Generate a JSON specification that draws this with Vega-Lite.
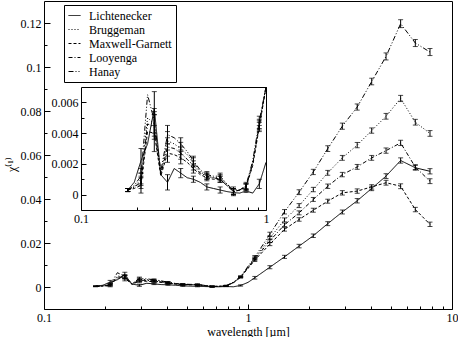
{
"$schema": "https://vega.github.io/schema/vega-lite/v6.json",
"width": 408, "height": 308,
"autosize": {"type": "none"},
"padding": {"left": 44, "top": 1, "right": 6, "bottom": 28},
"background": "white",
"config": {
  "font": "Liberation Serif",
  "view": {"stroke": "black", "strokeWidth": 1},
  "axis": {"labelFont": "Liberation Serif", "labelFontSize": 12, "labelColor": "black", "titleFont": "Liberation Serif", "titleFontSize": 12, "titleFontWeight": "normal", "titleColor": "black", "tickColor": "black", "domainColor": "black", "grid": false, "labelFlush": false, "labelOverlap": false, "tickWidth": 1},
  "legend": {"labelFont": "Liberation Serif"}
},
"datasets": {"chi": [
{"s":"Lichtenecker","x":0.179,"y":0.0003,"e":0.0001},{"s":"Lichtenecker","x":0.194,"y":0.0008},{"s":"Lichtenecker","x":0.211,"y":0.0022,"e":0.0008},{"s":"Lichtenecker","x":0.229,"y":0.0033},{"s":"Lichtenecker","x":0.249,"y":0.0056,"e":0.0011},{"s":"Lichtenecker","x":0.270,"y":0.0013},{"s":"Lichtenecker","x":0.2935,"y":0.0008,"e":0.0005},{"s":"Lichtenecker","x":0.319,"y":0.0017},{"s":"Lichtenecker","x":0.346,"y":0.0014,"e":0.0003},{"s":"Lichtenecker","x":0.375,"y":0.0011},{"s":"Lichtenecker","x":0.405,"y":0.0010,"e":0.0002},{"s":"Lichtenecker","x":0.441,"y":0.0008},{"s":"Lichtenecker","x":0.479,"y":0.0005,"e":0.0002},{"s":"Lichtenecker","x":0.520,"y":0.0004},{"s":"Lichtenecker","x":0.565,"y":0.0003,"e":0.0002},{"s":"Lichtenecker","x":0.614,"y":0.0002},{"s":"Lichtenecker","x":0.667,"y":0.00013,"e":0.0002},{"s":"Lichtenecker","x":0.721,"y":0.0001},{"s":"Lichtenecker","x":0.780,"y":0.00024,"e":0.0001},{"s":"Lichtenecker","x":0.848,"y":0.0001},{"s":"Lichtenecker","x":0.920,"y":0.0007,"e":0.0003},{"s":"Lichtenecker","x":1.0,"y":0.0021},{"s":"Lichtenecker","x":1.08,"y":0.0042,"e":0.0006},{"s":"Lichtenecker","x":1.28,"y":0.0090,"e":0.0007},{"s":"Lichtenecker","x":1.51,"y":0.0137,"e":0.0007},{"s":"Lichtenecker","x":1.78,"y":0.0186,"e":0.0008},{"s":"Lichtenecker","x":2.09,"y":0.0233,"e":0.0008},{"s":"Lichtenecker","x":2.46,"y":0.0288,"e":0.0009},{"s":"Lichtenecker","x":2.90,"y":0.0341,"e":0.0009},{"s":"Lichtenecker","x":3.43,"y":0.0392,"e":0.0010},{"s":"Lichtenecker","x":4.04,"y":0.0448,"e":0.0010},{"s":"Lichtenecker","x":4.75,"y":0.0504,"e":0.0011},{"s":"Lichtenecker","x":5.60,"y":0.0575,"e":0.0012},{"s":"Lichtenecker","x":6.61,"y":0.0542,"e":0.0011},{"s":"Lichtenecker","x":7.80,"y":0.0526,"e":0.0012},
{"s":"Hanay","x":0.179,"y":0.0003,"e":0.0001},{"s":"Hanay","x":0.194,"y":0.0006},{"s":"Hanay","x":0.211,"y":0.0012,"e":0.0005},{"s":"Hanay","x":0.229,"y":0.0065},{"s":"Hanay","x":0.249,"y":0.0048,"e":0.0008},{"s":"Hanay","x":0.270,"y":0.0015},{"s":"Hanay","x":0.2935,"y":0.0039,"e":0.0006},{"s":"Hanay","x":0.319,"y":0.0037},{"s":"Hanay","x":0.346,"y":0.0033,"e":0.0004},{"s":"Hanay","x":0.375,"y":0.0028},{"s":"Hanay","x":0.405,"y":0.0022,"e":0.0003},{"s":"Hanay","x":0.441,"y":0.0016},{"s":"Hanay","x":0.479,"y":0.0013,"e":0.0002},{"s":"Hanay","x":0.520,"y":0.0012},{"s":"Hanay","x":0.565,"y":0.0012,"e":0.0002},{"s":"Hanay","x":0.614,"y":0.0007},{"s":"Hanay","x":0.667,"y":0.0003,"e":0.0002},{"s":"Hanay","x":0.721,"y":0.0003},{"s":"Hanay","x":0.780,"y":0.0006,"e":0.0002},{"s":"Hanay","x":0.848,"y":0.0022},{"s":"Hanay","x":0.920,"y":0.0048,"e":0.0003},{"s":"Hanay","x":1.08,"y":0.0136,"e":0.0007},{"s":"Hanay","x":1.28,"y":0.0240,"e":0.0009},{"s":"Hanay","x":1.51,"y":0.0342,"e":0.0010},{"s":"Hanay","x":1.78,"y":0.0431,"e":0.0011},{"s":"Hanay","x":2.09,"y":0.0523,"e":0.0012},{"s":"Hanay","x":2.46,"y":0.0629,"e":0.0013},{"s":"Hanay","x":2.90,"y":0.0731,"e":0.0014},{"s":"Hanay","x":3.43,"y":0.0818,"e":0.0014},{"s":"Hanay","x":4.04,"y":0.0934,"e":0.0015},{"s":"Hanay","x":4.75,"y":0.1048,"e":0.0016},{"s":"Hanay","x":5.60,"y":0.1197,"e":0.0018},{"s":"Hanay","x":6.61,"y":0.1109,"e":0.0016},{"s":"Hanay","x":7.80,"y":0.1068,"e":0.0016},
{"s":"Bruggeman","x":0.179,"y":0.0003,"e":0.0001},{"s":"Bruggeman","x":0.194,"y":0.0005},{"s":"Bruggeman","x":0.211,"y":0.0010,"e":0.0004},{"s":"Bruggeman","x":0.229,"y":0.0050},{"s":"Bruggeman","x":0.249,"y":0.0046,"e":0.0008},{"s":"Bruggeman","x":0.270,"y":0.0014},{"s":"Bruggeman","x":0.2935,"y":0.0035,"e":0.0006},{"s":"Bruggeman","x":0.319,"y":0.0033},{"s":"Bruggeman","x":0.346,"y":0.0030,"e":0.0004},{"s":"Bruggeman","x":0.375,"y":0.0026},{"s":"Bruggeman","x":0.405,"y":0.0021,"e":0.0003},{"s":"Bruggeman","x":0.441,"y":0.0015},{"s":"Bruggeman","x":0.479,"y":0.0012,"e":0.0002},{"s":"Bruggeman","x":0.520,"y":0.0011},{"s":"Bruggeman","x":0.565,"y":0.0011,"e":0.0002},{"s":"Bruggeman","x":0.614,"y":0.0007},{"s":"Bruggeman","x":0.667,"y":0.0002,"e":0.0002},{"s":"Bruggeman","x":0.721,"y":0.0003},{"s":"Bruggeman","x":0.780,"y":0.0005,"e":0.0002},{"s":"Bruggeman","x":0.848,"y":0.0021},{"s":"Bruggeman","x":0.920,"y":0.0046,"e":0.0003},{"s":"Bruggeman","x":1.08,"y":0.0131,"e":0.0006},{"s":"Bruggeman","x":1.28,"y":0.0223,"e":0.0008},{"s":"Bruggeman","x":1.51,"y":0.0305,"e":0.0009},{"s":"Bruggeman","x":1.78,"y":0.0370,"e":0.0009},{"s":"Bruggeman","x":2.09,"y":0.0443,"e":0.0010},{"s":"Bruggeman","x":2.46,"y":0.0519,"e":0.0011},{"s":"Bruggeman","x":2.90,"y":0.0587,"e":0.0011},{"s":"Bruggeman","x":3.43,"y":0.0645,"e":0.0012},{"s":"Bruggeman","x":4.04,"y":0.0711,"e":0.0012},{"s":"Bruggeman","x":4.75,"y":0.0776,"e":0.0013},{"s":"Bruggeman","x":5.60,"y":0.0857,"e":0.0014},{"s":"Bruggeman","x":6.61,"y":0.0749,"e":0.0013},{"s":"Bruggeman","x":7.80,"y":0.0698,"e":0.0013},
{"s":"Looyenga","x":0.179,"y":0.0003,"e":0.0001},{"s":"Looyenga","x":0.194,"y":0.0005},{"s":"Looyenga","x":0.211,"y":0.0008,"e":0.0004},{"s":"Looyenga","x":0.229,"y":0.0046},{"s":"Looyenga","x":0.249,"y":0.0044,"e":0.0008},{"s":"Looyenga","x":0.270,"y":0.0013},{"s":"Looyenga","x":0.2935,"y":0.0031,"e":0.0006},{"s":"Looyenga","x":0.319,"y":0.0030},{"s":"Looyenga","x":0.346,"y":0.0027,"e":0.0004},{"s":"Looyenga","x":0.375,"y":0.0023},{"s":"Looyenga","x":0.405,"y":0.0019,"e":0.0003},{"s":"Looyenga","x":0.441,"y":0.0014},{"s":"Looyenga","x":0.479,"y":0.0012,"e":0.0002},{"s":"Looyenga","x":0.520,"y":0.0011},{"s":"Looyenga","x":0.565,"y":0.0010,"e":0.0002},{"s":"Looyenga","x":0.614,"y":0.0006},{"s":"Looyenga","x":0.667,"y":0.0002,"e":0.0002},{"s":"Looyenga","x":0.721,"y":0.0003},{"s":"Looyenga","x":0.780,"y":0.0005,"e":0.0002},{"s":"Looyenga","x":0.848,"y":0.0020},{"s":"Looyenga","x":0.920,"y":0.0045,"e":0.0003},{"s":"Looyenga","x":1.08,"y":0.0127,"e":0.0006},{"s":"Looyenga","x":1.28,"y":0.0210,"e":0.0008},{"s":"Looyenga","x":1.51,"y":0.0283,"e":0.0008},{"s":"Looyenga","x":1.78,"y":0.0337,"e":0.0009},{"s":"Looyenga","x":2.09,"y":0.0398,"e":0.0009},{"s":"Looyenga","x":2.46,"y":0.0458,"e":0.0010},{"s":"Looyenga","x":2.90,"y":0.0511,"e":0.0010},{"s":"Looyenga","x":3.43,"y":0.0546,"e":0.0011},{"s":"Looyenga","x":4.04,"y":0.0587,"e":0.0011},{"s":"Looyenga","x":4.75,"y":0.0620,"e":0.0012},{"s":"Looyenga","x":5.60,"y":0.0655,"e":0.0012},{"s":"Looyenga","x":6.61,"y":0.0545,"e":0.0011},{"s":"Looyenga","x":7.80,"y":0.0481,"e":0.0011},
{"s":"Maxwell-Garnett","x":0.179,"y":0.0003,"e":0.0001},{"s":"Maxwell-Garnett","x":0.194,"y":0.0004},{"s":"Maxwell-Garnett","x":0.211,"y":0.0006,"e":0.0005},{"s":"Maxwell-Garnett","x":0.229,"y":0.0041},{"s":"Maxwell-Garnett","x":0.249,"y":0.0040,"e":0.0012},{"s":"Maxwell-Garnett","x":0.270,"y":0.0012},{"s":"Maxwell-Garnett","x":0.2935,"y":0.0027,"e":0.0006},{"s":"Maxwell-Garnett","x":0.319,"y":0.0026},{"s":"Maxwell-Garnett","x":0.346,"y":0.0024,"e":0.0004},{"s":"Maxwell-Garnett","x":0.375,"y":0.0021},{"s":"Maxwell-Garnett","x":0.405,"y":0.0017,"e":0.0003},{"s":"Maxwell-Garnett","x":0.441,"y":0.0013},{"s":"Maxwell-Garnett","x":0.479,"y":0.0011,"e":0.0002},{"s":"Maxwell-Garnett","x":0.520,"y":0.0010},{"s":"Maxwell-Garnett","x":0.565,"y":0.0010,"e":0.0002},{"s":"Maxwell-Garnett","x":0.614,"y":0.0006},{"s":"Maxwell-Garnett","x":0.667,"y":0.0002,"e":0.0002},{"s":"Maxwell-Garnett","x":0.721,"y":0.0003},{"s":"Maxwell-Garnett","x":0.780,"y":0.0005,"e":0.0002},{"s":"Maxwell-Garnett","x":0.848,"y":0.0019},{"s":"Maxwell-Garnett","x":0.920,"y":0.0044,"e":0.0003},{"s":"Maxwell-Garnett","x":1.08,"y":0.0122,"e":0.0006},{"s":"Maxwell-Garnett","x":1.28,"y":0.0195,"e":0.0007},{"s":"Maxwell-Garnett","x":1.51,"y":0.0262,"e":0.0008},{"s":"Maxwell-Garnett","x":1.78,"y":0.0307,"e":0.0008},{"s":"Maxwell-Garnett","x":2.09,"y":0.0349,"e":0.0009},{"s":"Maxwell-Garnett","x":2.46,"y":0.0390,"e":0.0009},{"s":"Maxwell-Garnett","x":2.90,"y":0.0428,"e":0.0010},{"s":"Maxwell-Garnett","x":3.43,"y":0.0436,"e":0.0010},{"s":"Maxwell-Garnett","x":4.04,"y":0.0455,"e":0.0010},{"s":"Maxwell-Garnett","x":4.75,"y":0.0474,"e":0.0011},{"s":"Maxwell-Garnett","x":5.60,"y":0.0458,"e":0.0011},{"s":"Maxwell-Garnett","x":6.61,"y":0.0352,"e":0.0010},{"s":"Maxwell-Garnett","x":7.80,"y":0.0285,"e":0.0010}
]},
"data": {"name": "chi"},
"layer": [
  {
    "mark": {"type": "line", "strokeWidth": 1, "color": "black"},
    "encoding": {
      "x": {"field": "x", "type": "quantitative", "scale": {"type": "log", "domain": [0.1, 10]},
            "axis": {"orient": "bottom", "title": "wavelength  [µm]", "values": [0.1,0.2,0.3,0.4,0.5,0.6,0.7,0.8,0.9,1,2,3,4,5,6,7,8,9,10], "format": "~g",
                     "labelExpr": "datum.value==0.1||datum.value==1||datum.value==10 ? datum.label : ''",
                     "tickSize": {"condition": {"test": "datum.value==0.1||datum.value==1||datum.value==10", "value": -5}, "value": -3},
                     "labelPadding": 8, "domain": false, "titlePadding": 1}},
      "y": {"field": "y", "type": "quantitative", "scale": {"domain": [-0.01, 0.13]},
            "axis": {"orient": "left", "title": "χ⁽¹⁾", "titleX": -33, "titleY": 163, "titleAngle": -90, "titleAlign": "center", "titleBaseline": "middle",
                     "values": [0,0.01,0.02,0.03,0.04,0.05,0.06,0.07,0.08,0.09,0.1,0.11,0.12], "format": "~g",
                     "labelExpr": "round(datum.value*100) % 2 == 0 ? datum.label : ''",
                     "tickSize": {"condition": {"test": "round(datum.value*100) % 2 == 0", "value": -6}, "value": -3},
                     "labelPadding": 9, "domain": false}},
      "strokeDash": {"field": "s", "type": "nominal",
            "scale": {"domain": ["Lichtenecker", "Bruggeman", "Maxwell-Garnett", "Looyenga", "Hanay"], "range": [[1,0],[1,2],[3,2],[4,2,1,2],[5,2,1,2,1,2]]},
            "legend": {"orient": "none", "legendX": 20, "legendY": 4, "title": null, "symbolType": "stroke", "symbolStrokeColor": "black", "symbolStrokeWidth": 1, "symbolSize": 144,
                       "labelFont": "Liberation Serif", "labelFontSize": 12, "labelColor": "black", "fillColor": "white", "strokeColor": "black", "padding": 4, "rowPadding": 1, "labelOffset": 8}}
    }
  },
  {
    "transform": [{"filter": "datum.e != null"}],
    "mark": {"type": "errorbar", "ticks": {"size": 5, "color": "black", "thickness": 1}, "rule": {"color": "black", "strokeWidth": 1}},
    "encoding": {
      "x": {"field": "x", "type": "quantitative", "scale": {"type": "log", "domain": [0.1, 10]}, "axis": null},
      "y": {"field": "y", "type": "quantitative", "scale": {"domain": [-0.01, 0.13]}, "axis": null},
      "yError": {"field": "e"}
    }
  },
  {
    "transform": [{"filter": "datum.x < 1.1 && (datum.s != 'Lichtenecker' || datum.x <= 1.0)"}],
    "mark": {"type": "line", "strokeWidth": 1, "color": "black"},
    "encoding": {
      "x": {"field": "x", "type": "quantitative", "scale": {"type": "log", "domain": [0.1, 1], "range": [37, 222], "clamp": true},
            "axis": {"orient": "bottom", "offset": -99, "title": null, "values": [0.1,0.2,0.3,0.4,0.5,0.6,0.7,0.8,0.9,1], "format": "~g",
                     "labelExpr": "datum.value==0.1||datum.value==1 ? datum.label : ''",
                     "tickSize": {"condition": {"test": "datum.value==0.1||datum.value==1", "value": -5}, "value": -3},
                     "labelPadding": 8, "domain": true}},
      "y": {"field": "y", "type": "quantitative", "scale": {"domain": [-0.001, 0.007], "range": [209, 86], "clamp": true},
            "axis": {"orient": "left", "offset": -37, "title": null, "values": [0,0.001,0.002,0.003,0.004,0.005,0.006], "format": "~g",
                     "labelExpr": "round(datum.value*1000) % 2 == 0 ? datum.label : ''",
                     "tickSize": {"condition": {"test": "round(datum.value*1000) % 2 == 0", "value": -5}, "value": -3},
                     "labelPadding": 8, "domain": true}},
      "strokeDash": {"field": "s", "type": "nominal", "legend": null}
    }
  },
  {
    "transform": [{"filter": "datum.e != null && datum.x < 0.95"}],
    "mark": {"type": "errorbar", "ticks": {"size": 5, "color": "black", "thickness": 1}, "rule": {"color": "black", "strokeWidth": 1}},
    "encoding": {
      "x": {"field": "x", "type": "quantitative", "scale": {"type": "log", "domain": [0.1, 1], "range": [37, 222], "clamp": true},
            "axis": {"orient": "top", "offset": -86, "title": null, "labels": false, "ticks": false, "domain": true}},
      "y": {"field": "y", "type": "quantitative", "scale": {"domain": [-0.001, 0.007], "range": [209, 86], "clamp": true},
            "axis": {"orient": "right", "offset": -186, "title": null, "labels": false, "ticks": false, "domain": true}},
      "yError": {"field": "e"}
    }
  }
],
"resolve": {"scale": {"x": "independent", "y": "independent"}, "axis": {"x": "independent", "y": "independent"}}
}
